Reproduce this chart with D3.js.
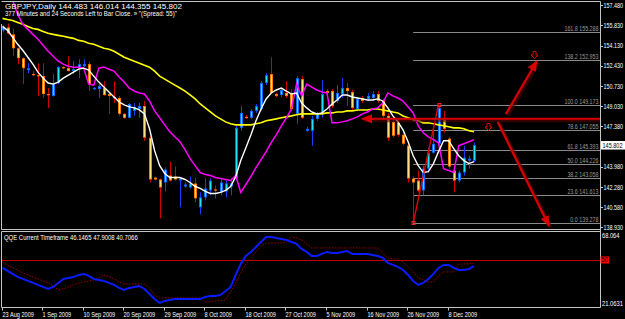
<!DOCTYPE html>
<html>
<head>
<meta charset="utf-8">
<script src="https://cdn.jsdelivr.net/npm/d3@7"></script>
<style>
  html, body { margin: 0; padding: 0; background: #000; }
  svg { display: block; }
  text { font-family: "Liberation Sans", Arial, sans-serif; }
</style>
</head>
<body>
<div id="chart"></div>
<script>
// GBPJPY daily bars, 23 Aug 2009 .. 14 Dec 2009
const open = [155.40,155.65,155.06,153.90,153.07,152.07,151.74,151.65,151.57,150.07,
  149.91,150.99,152.32,152.24,151.99,152.24,152.40,152.57,150.49,150.49,
  150.57,150.07,149.82,149.74,148.41,148.08,148.66,148.82,149.07,146.41,
  143.08,142.92,142.67,143.25,143.17,142.83,142.33,142.25,142.58,140.59,
  141.42,142.00,142.09,141.84,141.92,142.33,143.00,147.24,148.16,148.08,
  148.66,148.82,150.99,151.74,150.07,149.99,150.16,150.07,148.41,151.32,
  146.99,146.99,147.99,148.49,150.32,150.32,149.49,150.07,150.57,150.24,
  148.82,149.74,149.66,149.74,150.07,149.49,148.24,147.74,147.66,146.66,
  145.75,143.00,142.83,142.00,143.83,145.16,145.91,147.91,146.33,143.67,
  142.83,143.50,144.50,144.483];
const high = [155.81,155.98,155.56,153.98,153.15,152.65,151.99,152.65,152.65,150.57,
  151.74,152.40,152.40,153.23,152.82,152.98,152.98,152.82,150.65,150.90,
  151.15,150.16,151.15,149.91,148.49,149.32,149.32,149.32,149.49,146.58,
  143.17,143.00,143.92,144.41,144.00,143.08,142.67,143.17,143.08,141.84,
  143.00,143.00,142.42,143.00,142.83,143.00,147.41,149.07,148.33,148.82,
  149.24,151.15,151.82,153.15,150.16,150.57,151.15,150.49,151.57,151.57,
  147.33,148.24,148.57,151.23,150.49,150.49,150.82,151.40,150.99,150.41,
  149.82,149.91,150.16,150.32,150.32,149.66,148.49,147.99,147.99,146.99,
  145.91,143.17,143.67,144.08,145.58,147.24,149.173,148.66,146.49,144.08,
  143.67,145.75,144.91,146.014];
const low = [155.23,155.06,153.23,152.57,150.90,151.82,151.57,149.91,149.74,148.91,
  149.85,150.90,152.15,151.95,151.74,151.40,152.32,150.32,150.41,149.74,
  149.91,148.41,149.32,148.24,147.99,148.05,148.24,148.08,146.16,142.67,
  142.83,139.67,141.92,142.75,142.83,140.59,142.25,142.17,141.00,140.00,
  141.17,141.59,141.34,141.59,141.42,141.59,142.83,146.99,147.99,147.99,
  148.49,148.66,150.82,150.07,149.82,149.82,149.74,148.66,147.58,147.99,
  146.91,145.75,147.83,148.08,150.07,148.91,149.32,149.74,149.07,148.66,
  148.66,149.32,149.49,149.49,149.32,147.99,146.16,146.41,146.50,145.75,
  142.67,139.278,141.84,141.59,143.67,145.08,145.75,146.83,143.83,141.84,
  142.67,143.25,143.83,144.355];
const close = [155.65,155.15,153.90,153.07,152.24,152.24,151.65,151.57,150.07,149.99,
  150.99,152.32,152.24,152.00,152.15,152.57,152.57,150.90,150.57,150.74,
  149.99,149.91,149.74,148.41,148.08,149.24,148.99,149.07,146.41,142.92,
  142.92,142.25,143.75,142.83,142.92,143.00,142.50,142.58,141.34,141.42,
  142.17,142.83,142.00,142.67,142.58,142.58,147.24,148.49,148.08,148.66,
  149.07,150.99,151.65,150.16,149.91,150.41,149.91,148.82,151.40,148.08,
  147.16,147.99,148.41,150.07,150.16,149.07,150.16,150.57,150.32,148.91,
  149.66,149.49,149.91,150.07,149.49,148.24,146.41,146.58,146.66,145.91,
  143.00,142.67,142.00,143.83,145.16,145.91,148.90,147.16,144.00,142.83,
  143.50,144.75,144.66,145.802];

// moving averages drawn over the candles
const maWhite = [155.73,155.40,154.81,154.23,153.73,153.15,152.57,151.90,151.40,150.99,
  150.90,151.07,151.40,151.65,151.90,152.15,152.24,152.07,151.57,151.07,
  150.65,150.24,149.82,149.41,149.16,148.99,148.91,148.74,148.41,147.16,
  145.33,144.08,143.42,143.08,143.08,143.08,142.92,142.67,142.33,142.17,
  141.92,141.75,141.75,141.84,142.00,142.33,143.17,144.50,145.58,146.66,
  147.83,148.82,149.66,150.16,150.41,150.57,150.32,150.07,150.16,149.32,
  148.91,148.57,148.41,148.49,148.82,149.24,149.57,149.99,149.99,149.82,
  149.74,149.66,149.57,149.57,149.66,149.49,148.91,148.24,147.74,147.08,
  146.08,144.91,144.08,143.50,143.58,144.25,145.25,146.16,146.16,145.50,
  144.91,144.50,144.25,144.41];
const maMagenta = [160.31,159.06,157.89,156.73,155.90,155.48,155.06,154.65,154.15,153.65,
  153.23,152.82,152.57,152.40,152.32,152.32,152.24,150.90,150.82,152.24,
  152.32,152.15,151.99,151.49,151.07,150.57,150.32,150.16,150.07,149.49,
  148.66,148.08,147.49,146.91,146.49,146.08,145.41,144.66,144.08,143.50,
  143.33,143.25,143.08,143.00,142.92,142.83,143.25,141.84,142.50,143.17,
  143.92,144.58,145.25,146.00,146.66,147.41,148.08,148.82,150.90,149.91,
  150.90,150.65,150.41,150.24,150.16,147.66,147.66,147.74,147.83,147.99,
  148.16,148.41,148.57,148.82,148.91,149.32,150.16,149.91,149.74,149.49,
  148.99,148.49,147.41,146.83,146.49,146.25,145.99,143.83,143.67,143.50,
  145.75,145.91,146.08,146.25];
const maYellow = [156.40,156.31,156.23,156.06,155.90,155.73,155.56,155.48,155.31,155.15,
  155.06,154.98,154.90,154.81,154.73,154.56,154.48,154.32,154.23,154.07,
  153.90,153.82,153.65,153.40,153.15,152.98,152.82,152.65,152.48,152.32,
  151.99,151.57,151.32,151.07,150.82,150.57,150.32,149.99,149.66,149.24,
  148.91,148.57,148.24,147.99,147.74,147.58,147.49,147.49,147.49,147.49,
  147.58,147.66,147.83,147.91,147.99,148.08,148.16,148.24,148.33,148.41,
  148.41,148.41,148.41,148.41,148.49,148.49,148.57,148.57,148.66,148.66,
  148.74,148.74,148.74,148.82,148.82,148.74,148.66,148.57,148.49,148.24,
  148.08,147.91,147.83,147.66,147.66,147.58,147.49,147.41,147.33,147.24,
  147.24,147.16,146.99,146.91];

// QQE sub window
const qqeMain = [44.92,43.02,41.11,39.21,37.94,36.67,35.40,34.13,32.86,31.59,
  32.86,35.40,37.94,38.57,39.21,40.48,41.11,39.84,37.94,37.30,
  36.67,35.40,34.13,32.22,30.95,32.22,32.86,33.49,31.59,28.41,
  25.24,22.70,23.97,24.60,25.24,25.24,25.24,25.24,25.24,25.24,
  26.51,27.14,27.14,27.78,30.32,32.86,40.48,47.46,52.54,55.08,
  58.25,61.43,64.60,64.60,63.97,63.33,62.70,61.43,60.16,56.98,
  55.08,52.54,52.54,53.81,55.08,54.44,54.44,55.08,55.71,53.81,
  53.81,53.81,53.81,53.17,52.54,51.27,48.10,46.83,45.56,43.65,
  40.48,36.67,34.13,35.40,37.94,41.11,44.92,46.83,46.83,44.92,
  43.65,43.65,44.29,46.15];
const qqeTrail = [48.73,46.83,44.92,43.65,41.75,40.48,39.21,37.94,36.67,35.40,
  33.49,30.95,31.59,32.86,34.13,35.40,36.03,36.67,37.30,38.57,
  40.48,39.21,37.94,36.03,34.76,34.76,34.76,34.76,34.76,32.22,
  27.78,25.87,25.87,25.87,25.87,25.87,25.87,25.87,25.87,25.87,
  23.33,23.33,23.97,23.97,24.60,29.68,35.40,41.75,47.46,51.27,
  55.08,58.89,60.79,60.79,60.79,60.79,61.43,64.60,63.97,62.70,
  60.16,57.62,57.62,57.62,57.62,57.62,57.62,57.62,57.62,57.62,
  57.62,57.62,57.62,57.62,57.62,54.44,51.27,50.63,50.63,48.73,
  45.56,42.38,38.57,37.30,36.03,36.03,39.84,42.38,42.38,42.38,
  47.46,47.46,47.46,47.90];

// axis labels
const priceTicks = [157.48,155.83,154.13,152.43,150.73,149.03,147.38,143.98,142.28,140.58,138.93];
const dateTickBars = [0,8,16,24,32,40,48,56,64,72,80,88];
const dateTickLabels = ["23 Aug 2009","1 Sep 2009","10 Sep 2009","20 Sep 2009","29 Sep 2009","8 Oct 2009",
  "18 Oct 2009","27 Oct 2009","5 Nov 2009","16 Nov 2009","26 Nov 2009","8 Dec 2009"];

// fibonacci retracement from the 26 Nov low to the 1 Dec high
const fibLevels = [0, 23.6, 38.2, 50, 61.8, 78.6, 100, 138.2, 161.8];
const fibPrices = [139.278, 141.613, 143.058, 144.226, 145.393, 147.055, 149.173, 152.953, 155.288];
const fibStartBar = 81;
const zigzag = [[81, 139.278], [86, 149.173]];

// hand drawn arrows (bar index, price)
const arrows = [
  [[118, 148.0], [70.9, 148.0]],
  [[99.3, 148.40], [105.4, 152.83]],
  [[97.7, 147.73], [107.8, 139.03]]
];
const arrowMarks = [[104.8, 153.67], [95.8, 147.62]];

const W = 625, H = 319;
const plotL = 1.5, plotR = 600.5, mainT = 1.5, mainB = 229.5, subT = 231.5, subB = 307.5;

const svg = d3.select("#chart").append("svg").attr("width", W).attr("height", H);
svg.append("rect").attr("width", W).attr("height", H).attr("fill", "#000");

const x = d3.scaleLinear().domain([0, 93]).range([2.5, 474]);
const y = d3.scaleLinear().domain([139.278, 155.288]).range([223, 31.68]);
const yq = d3.scaleLinear().domain([21.0631, 68.064]).range([305.5, 231.5]);

const defs = svg.append("defs");
defs.append("clipPath").attr("id", "clipMain").append("rect")
  .attr("x", plotL + 0.5).attr("y", mainT + 0.5).attr("width", plotR - plotL - 1).attr("height", mainB - mainT - 1);
defs.append("clipPath").attr("id", "clipSub").append("rect")
  .attr("x", plotL + 0.5).attr("y", subT + 0.5).attr("width", plotR - plotL - 1).attr("height", subB - subT - 1);
defs.append("marker").attr("id", "head")
  .attr("markerUnits", "userSpaceOnUse").attr("markerWidth", 11).attr("markerHeight", 9)
  .attr("refX", 10).attr("refY", 4.5).attr("orient", "auto")
  .append("path").attr("d", "M0,0 L11,4.5 L0,9 Z").attr("fill", "#d80000");

// narrow text: measure, then scale horizontally (to a width or by a factor)
function label(g, tx, ty, str, size, fill, opt) {
  opt = opt || {};
  const t = g.append("text").attr("font-size", size).attr("fill", fill).text(str);
  if (opt.anchor) t.attr("text-anchor", opt.anchor);
  const w = t.node().getComputedTextLength();
  const k = opt.width ? opt.width / w : (opt.k || 0.8);
  t.attr("transform", `translate(${tx},${ty}) scale(${k},1)`);
  return t;
}

const main = svg.append("g").attr("clip-path", "url(#clipMain)");

// fibonacci lines
const fibG = main.append("g");
fibPrices.forEach(p => {
  const yy = Math.round(y(p)) + 0.5;
  fibG.append("line").attr("x1", x(fibStartBar)).attr("x2", plotR).attr("y1", yy).attr("y2", yy)
    .attr("stroke", "#8a8a8a").attr("stroke-width", 1);
});

// candles
const bars = d3.range(open.length);
const cg = main.append("g");
bars.forEach(i => {
  const bull = close[i] >= open[i];
  const cx = Math.round(x(i)) + 0.5;
  cg.append("line").attr("x1", cx).attr("x2", cx).attr("y1", y(high[i])).attr("y2", y(low[i]))
    .attr("stroke", bull ? "#1a3cff" : "#d00000").attr("stroke-width", 1);
  const top = Math.min(y(open[i]), y(close[i]));
  const hgt = Math.max(1.2, Math.abs(y(open[i]) - y(close[i])));
  cg.append("rect").attr("x", cx - 1.5).attr("y", top).attr("width", 3).attr("height", hgt)
    .attr("fill", bull ? "#0a6cff" : "#ff7a00");
  if (hgt > 2.5) {
    cg.append("rect").attr("x", cx - 0.5).attr("y", top + 1).attr("width", 1).attr("height", hgt - 2)
      .attr("fill", bull ? "#22e4ff" : "#ffe27a");
  }
});

// moving averages
const priceLine = d3.line().x((d, i) => x(i)).y(d => y(d));
main.append("path").datum(maYellow).attr("d", priceLine).attr("fill", "none")
  .attr("stroke", "#ffff00").attr("stroke-width", 1.6);
main.append("path").datum(maMagenta).attr("d", priceLine).attr("fill", "none")
  .attr("stroke", "#ff00ff").attr("stroke-width", 1.5);
main.append("path").datum(maWhite).attr("d", priceLine).attr("fill", "none")
  .attr("stroke", "#ffffff").attr("stroke-width", 1.4);

// zigzag leg with its end boxes
main.append("line")
  .attr("x1", x(zigzag[0][0])).attr("y1", y(zigzag[0][1]))
  .attr("x2", x(zigzag[1][0])).attr("y2", y(zigzag[1][1]))
  .attr("stroke", "#e00000").attr("stroke-width", 1.4);
zigzag.forEach(d => {
  main.append("rect").attr("x", Math.round(x(d[0])) - 1).attr("y", Math.round(y(d[1])) - 1.5)
    .attr("width", 3).attr("height", 3).attr("fill", "none").attr("stroke", "#ff2020").attr("stroke-width", 1);
});

// red arrows, soft glow underneath
arrows.forEach(a => {
  main.append("line")
    .attr("x1", x(a[0][0]) + 1.5).attr("y1", y(a[0][1]) + 1.5)
    .attr("x2", x(a[1][0]) + 1.5).attr("y2", y(a[1][1]) + 1.5)
    .attr("stroke", "#5a0000").attr("stroke-width", 4).attr("stroke-opacity", 0.6);
  main.append("line")
    .attr("x1", x(a[0][0])).attr("y1", y(a[0][1]))
    .attr("x2", x(a[1][0])).attr("y2", y(a[1][1]))
    .attr("stroke", "#d80000").attr("stroke-width", 2.2)
    .attr("marker-end", "url(#head)");
});

// small outlined down arrows
arrowMarks.forEach(m => {
  const cx = Math.round(x(m[0])) + 0.5, t0 = Math.round(y(m[1])) + 0.5;
  main.append("path")
    .attr("d", `M${cx - 1.5},${t0} h3 v3.5 h2 l-3.5,3.5 l-3.5,-3.5 h2 Z`)
    .attr("fill", "none").attr("stroke", "#e00000").attr("stroke-width", 1);
});

// QQE sub window
const sub = svg.append("g").attr("clip-path", "url(#clipSub)");
sub.append("line").attr("x1", plotL).attr("x2", plotR).attr("y1", Math.round(yq(50)) + 0.5).attr("y2", Math.round(yq(50)) + 0.5)
  .attr("stroke", "#c00000").attr("stroke-width", 1);
const qLine = d3.line().x((d, i) => x(i)).y(d => yq(d));
sub.append("path").datum(qqeTrail).attr("d", qLine).attr("fill", "none")
  .attr("stroke", "#a00000").attr("stroke-width", 1).attr("stroke-dasharray", "1.5,1.5");
sub.append("path").datum(qqeMain).attr("d", qLine).attr("fill", "none")
  .attr("stroke", "#0a1cff").attr("stroke-width", 2);

// frames
const frame = svg.append("g").attr("stroke", "#c4c4c4").attr("stroke-width", 1).attr("fill", "none");
frame.append("line").attr("x1", plotL).attr("x2", plotR).attr("y1", mainT).attr("y2", mainT);
frame.append("line").attr("x1", plotL).attr("x2", plotL).attr("y1", 24).attr("y2", mainB);
frame.append("line").attr("x1", plotR).attr("x2", plotR).attr("y1", mainT).attr("y2", subB);
frame.append("line").attr("x1", plotL).attr("x2", plotR).attr("y1", mainB).attr("y2", mainB);
frame.append("line").attr("x1", plotL).attr("x2", plotR).attr("y1", subT).attr("y2", subT);
frame.append("line").attr("x1", plotL).attr("x2", plotR).attr("y1", subB).attr("y2", subB);
frame.append("line").attr("x1", plotL).attr("x2", plotL).attr("y1", subT).attr("y2", subB);

// all texts and label boxes go on top
const labels = svg.append("g");

// fibonacci level labels
fibPrices.forEach((p, i) => {
  const yy = Math.round(y(p)) + 0.5;
  label(labels, 598.5, yy - 1.5, fibLevels[i].toFixed(1) + " " + p.toFixed(3), 6.5, "#9a9a9a",
    { anchor: "end", k: 0.82 });
});

// price axis
priceTicks.forEach(p => {
  const yy = Math.max(4, y(p));
  labels.append("line").attr("x1", plotR).attr("x2", plotR + 2.5)
    .attr("y1", Math.round(yy) + 0.5).attr("y2", Math.round(yy) + 0.5).attr("stroke", "#c4c4c4");
  label(labels, 603.5, yy + 2.4, p.toFixed(3), 6.8, "#fff", { width: 19.5 });
});
const lastY = y(close[close.length - 1]);
labels.append("rect").attr("x", 601).attr("y", lastY - 4).attr("width", 24).attr("height", 8.5).attr("fill", "#fff");
label(labels, 602.5, lastY + 2.6, close[close.length - 1].toFixed(3), 6.8, "#000", { width: 20 });

// QQE axis
label(labels, 602, 237.5, "68.064", 6.8, "#fff", { width: 17.5 });
label(labels, 602, 306, "21.0631", 6.8, "#fff", { width: 21 });
labels.append("rect").attr("x", 600.5).attr("y", yq(50) - 3.5).attr("width", 8.5).attr("height", 7).attr("fill", "#ff0000");
label(labels, 601.3, yq(50) + 2.4, "50", 6.8, "#000", { width: 6.5 });

// time axis
dateTickBars.forEach((b, k) => {
  const tx = Math.round(x(b)) - 0.5;
  labels.append("line").attr("x1", tx).attr("x2", tx).attr("y1", subB).attr("y2", subB + 3).attr("stroke", "#c4c4c4");
  label(labels, tx, 316.5, dateTickLabels[k], 7, "#fff", { k: 0.8 });
});

// titles
label(labels, 5, 8.5, "GBPJPY,Daily  144.483 146.014 144.355 145.802", 6.8, "#fff", { width: 177 });
label(labels, 5, 16.2, "377 Minutes and 24 Seconds Left to Bar Close. \u00bb \"(Spread: 55)\"", 6.8, "#fff", { width: 172 });
label(labels, 4, 240, "QQE Current Timeframe 46.1465 47.9008 40.7066", 6.8, "#fff", { width: 134 });
</script>
</body>
</html>
